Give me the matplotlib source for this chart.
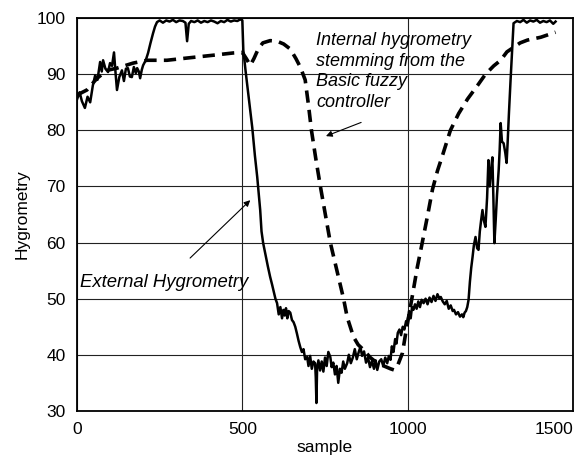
import numpy as np
import matplotlib.pyplot as plt

plt.rcParams['font.family'] = ['Liberation Sans', 'DejaVu Sans']

# External hygrometry (solid, noisy)
ext_sample = [0, 8, 15, 24, 32, 40, 48, 55, 62, 70, 75, 79, 86, 94, 100, 106, 112, 117, 121, 128,
              136, 142, 148, 154, 160, 166, 172, 178, 182, 187, 191, 196, 200, 208, 215, 222, 230, 236, 242, 250,
              260, 270, 280, 290, 300, 310, 320, 328, 333, 338, 345, 355, 365, 375, 385, 395, 405, 415, 425, 435,
              445, 455, 465, 475, 485, 494, 500, 503, 510, 517, 524, 530, 538, 545, 550, 554, 558, 563, 570, 577,
              584, 590, 596, 600, 605, 610, 615, 620, 624, 628, 632, 636, 640, 645, 650, 655, 660, 665, 670, 675,
              680, 685, 690, 696, 700, 705, 710, 715, 720, 722, 724, 726, 730, 735, 740, 745, 750, 755, 760, 766,
              770, 775, 780, 785, 790, 795, 800, 805, 810, 817, 822, 828, 834, 840, 846, 852, 857, 862, 868, 874,
              880, 886, 892, 898, 903, 908, 914, 920, 926, 932, 938, 943, 948, 952, 957, 962, 966, 970, 975, 980,
              985, 990, 995, 999, 1004, 1009, 1013, 1017, 1022, 1027, 1032, 1037, 1042, 1048, 1054, 1060, 1066, 1072, 1078, 1084,
              1090, 1096, 1100, 1106, 1112, 1118, 1124, 1130, 1136, 1140, 1146, 1152, 1158, 1164, 1168, 1172, 1176, 1180, 1184, 1188,
              1192, 1196, 1200, 1205, 1210, 1214, 1218, 1222, 1226, 1230, 1235, 1240, 1244, 1248, 1252, 1256, 1259, 1262, 1266, 1270,
              1275, 1278, 1281, 1285, 1290, 1295, 1299, 1302, 1306, 1311, 1316, 1320, 1330, 1340, 1350, 1360, 1370, 1380, 1390, 1400,
              1410, 1420, 1430, 1440, 1447]
ext_value = [85.5, 86.8, 85.2, 84.0, 86.0, 85.0, 88.0, 89.8, 89.0, 92.2, 90.5, 92.5, 91.0, 90.4, 92.0, 91.5, 93.9, 90.0, 87.2, 89.5,
             90.7, 88.8, 91.0, 91.1, 89.6, 89.5, 91.3, 90.2, 91.1, 90.5, 89.3, 90.8, 91.6, 92.5, 93.8, 95.5, 97.3, 98.5, 99.3, 99.6,
             99.2, 99.6, 99.4, 99.7, 99.3, 99.6, 99.5, 99.2, 95.9, 99.0, 99.5, 99.3, 99.6, 99.2, 99.5, 99.3, 99.6, 99.4, 99.1, 99.5,
             99.3, 99.7, 99.4, 99.6, 99.5, 99.8, 99.6, 94.3, 90.5, 87.0, 83.6, 80.5, 75.5, 71.7, 68.5, 65.8, 62.0, 59.9, 57.8, 55.8,
             53.9, 52.5, 51.0, 50.0, 49.2, 47.2, 48.5, 46.5, 48.0, 47.0, 48.3, 46.5, 47.8, 47.5, 46.2, 45.8, 45.0, 43.8, 42.5, 41.4,
             40.5, 41.0, 39.2, 39.6, 38.0, 39.8, 37.5, 38.8, 38.5, 36.0, 31.4, 37.5, 39.0, 37.2, 38.8, 37.0, 39.5, 38.0, 40.5, 39.6,
             37.8, 38.6, 36.5, 38.0, 35.0, 37.5, 36.8, 38.8, 37.5, 38.5, 40.0, 38.5, 39.5, 41.0, 39.2, 40.5, 41.4, 39.8, 40.6, 38.6,
             39.5, 37.8, 38.9, 37.5, 39.0, 37.3, 38.8, 39.2, 38.0, 39.5, 38.5, 39.8, 39.1, 41.5, 40.5, 42.8, 42.0, 43.9, 44.5, 43.5,
             45.0, 44.5, 46.0, 45.7, 47.8, 46.5, 48.5, 48.0, 49.0, 48.2, 49.5, 48.5, 49.8, 49.2, 50.0, 49.0, 50.2, 49.4, 50.5, 49.6,
             50.8, 50.0, 50.3, 49.5, 49.0, 49.6, 48.2, 48.8, 47.8, 48.0, 47.2, 47.6, 46.8, 47.2, 46.7, 47.5, 47.8, 48.5, 49.8, 53.0,
             55.5, 57.4, 59.5, 61.0, 59.0, 58.7, 62.0, 64.0, 65.8, 64.0, 62.8, 68.0, 74.7, 70.0, 73.0, 75.2, 68.0, 59.9, 64.0, 68.5,
             72.9, 76.5, 81.3, 78.0, 77.7, 76.0, 74.2, 77.7, 83.0, 89.0, 94.5, 99.1, 99.5, 99.3, 99.7, 99.2, 99.6, 99.4, 99.7, 99.2,
             99.5, 99.3, 99.6, 99.0, 99.4]

# Internal hygrometry from the Basic fuzzy controller (dashed)
int_sample = [0, 30, 61, 91, 121, 170, 212, 272, 333, 412, 472, 500, 512, 524, 535, 548, 562, 584, 605, 625,
              645, 662, 676, 690, 700, 709, 722, 736, 751, 766, 786, 806, 817, 836, 850, 866, 887, 908, 928, 948,
              958, 969, 984, 993, 1002, 1014, 1029, 1044, 1060, 1075, 1090, 1105, 1129, 1154, 1181, 1211, 1235, 1260, 1281, 1300,
              1320, 1340, 1362, 1402, 1447]
int_value = [86.3, 87.2, 89.3, 90.7, 91.1, 92.0, 92.5, 92.5, 92.9, 93.4, 93.8, 93.9, 92.8, 91.6, 92.8, 94.5, 95.6, 96.0, 95.9, 95.4,
             94.5, 92.8, 91.2, 89.0, 84.5, 80.0, 75.0, 70.0, 65.0, 60.0, 55.0, 50.0, 46.7, 43.2, 41.8, 40.9, 39.5, 38.5, 38.0, 37.5,
             37.3, 38.0, 40.3, 43.5, 46.5, 50.5, 55.6, 60.0, 64.8, 69.5, 72.8, 75.5, 80.0, 83.0, 85.6, 88.0, 90.0, 91.5, 92.5, 94.0,
             94.8, 95.6, 96.1, 96.6, 97.5]

x_ticks = [0, 500, 1000, 1500]
y_ticks = [30, 40, 50, 60, 70, 80, 90, 100]

fig = plt.figure(figsize=(5.83, 4.55), dpi=100)
ax = fig.add_axes([0.132, 0.097, 0.851, 0.863])

ax.plot(ext_sample, ext_value, color='black', lw=1.8, solid_joinstyle='round')
ax.plot(int_sample, int_value, color='black', lw=2.6, dashes=(3.4, 2.0))

ax.set_xlim(0, 1500)
ax.set_ylim(30, 100)
ax.set_xticks(x_ticks)
ax.set_yticks(y_ticks)
ax.tick_params(length=0, labelsize=12.5, pad=8)
ax.grid(True, color='#222222', lw=0.8)
for s in ax.spines.values():
    s.set_linewidth(1.3)
ax.get_xticklabels()[-1].set_horizontalalignment('right')

ax.set_xlabel('sample', fontsize=12.5, labelpad=2)
ax.set_ylabel('Hygrometry', fontsize=12.5, labelpad=5)

# annotations
ax.text(724, 97.6, 'Internal hygrometry\nstemming from the\nBasic fuzzy\ncontroller',
        fontsize=13, style='italic', va='top', ha='left', linespacing=1.3)
ax.annotate('', xy=(745, 78.8), xytext=(867, 81.6),
            arrowprops=dict(arrowstyle='-|>', color='black', lw=0.8, mutation_scale=9))
ax.text(9, 52.8, 'External Hygrometry', fontsize=13.3, style='italic', va='center', ha='left')
ax.annotate('', xy=(530, 67.9), xytext=(336, 56.9),
            arrowprops=dict(arrowstyle='-|>', color='black', lw=0.8, mutation_scale=9))

fig.savefig('out.png', dpi=100)
